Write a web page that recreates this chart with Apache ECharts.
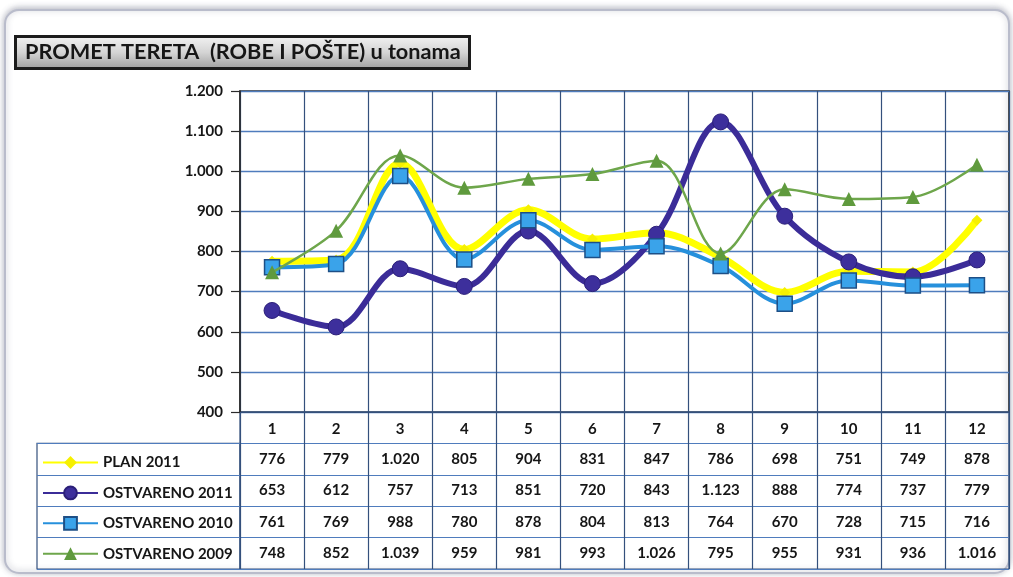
<!DOCTYPE html>
<html>
<head>
<meta charset="utf-8">
<script src="https://cdn.jsdelivr.net/npm/echarts@6/dist/echarts.min.js"></script>
<style>
  html, body { margin: 0; padding: 0; background: #fff; }
  #chart { width: 1013px; height: 577px; }
</style>
</head>
<body>
<div id="chart"></div>
<script>
const months = ['1', '2', '3', '4', '5', '6', '7', '8', '9', '10', '11', '12']
const plan2011 = [776, 779, 1020, 805, 904, 831, 847, 786, 698, 751, 749, 878]
const ostvareno2011 = [653, 612, 757, 713, 851, 720, 843, 1123, 888, 774, 737, 779]
const ostvareno2010 = [761, 769, 988, 780, 878, 804, 813, 764, 670, 728, 715, 716]
const ostvareno2009 = [748, 852, 1039, 959, 981, 993, 1026, 795, 955, 931, 936, 1016]
const seriesNames = ['PLAN 2011', 'OSTVARENO 2011', 'OSTVARENO 2010', 'OSTVARENO 2009']
const yTicks = [400, 1200, 100] // min, max, step

const FONT = 'Lato'
const ink = '#161616'
const hGrid = '#4f7cbd'
const vGrid = '#34507c'

// 1.020 style thousands separator
function fmt(v) {
  if (v < 1000) return String(v)
  return Math.floor(v / 1000) + '.' + String(v % 1000).padStart(3, '0')
}

const tableTop = 412
const tableHeight = 157
const rowH = tableHeight / 5

const allRows = [plan2011, ostvareno2011, ostvareno2010, ostvareno2009]

// one extra x axis per table row, its labels are the row's values
const rowAxes = allRows.map((row, r) => ({
  gridIndex: 1,
  type: 'category',
  position: 'bottom',
  data: row.map(fmt),
  offset: rowH * (r + 1.5) - tableHeight,
  axisLine: { show: false },
  axisTick: { show: false },
  splitLine: { show: false },
  axisLabel: {
    margin: 0,
    verticalAlign: 'middle',
    interval: 0,
    fontFamily: FONT,
    fontSize: 15,
    fontWeight: 'bold',
    color: ink
  }
}))

const chart = echarts.init(document.getElementById('chart'))

const option = {
  backgroundColor: '#fff',
  animation: false,
  graphic: [
    {
      type: 'rect',
      z: -10,
      shape: { x: 5, y: 10, width: 1004, height: 563, r: 14 },
      style: {
        fill: '#fff',
        stroke: '#b9bccb',
        lineWidth: 2,
        shadowBlur: 6,
        shadowColor: 'rgba(90,95,120,0.45)',
        shadowOffsetY: -1
      }
    }
  ],
  title: {
    text: 'PROMET TERETA  (ROBE I POŠTE) u tonama',
    left: 15,
    top: 36,
    padding: [5, 9, 6, 10],
    borderColor: '#1c1c1c',
    borderWidth: 3,
    backgroundColor: new echarts.graphic.LinearGradient(0, 0, 0, 1, [
      { offset: 0, color: '#f4f4f4' },
      { offset: 0.5, color: '#d4d4d4' },
      { offset: 1, color: '#9c9c9c' }
    ]),
    textStyle: { fontFamily: FONT, fontSize: 21.7, fontWeight: 'bold', color: ink }
  },
  legend: {
    data: seriesNames,
    orient: 'vertical',
    left: 37,
    top: 450,
    itemWidth: 55,
    itemHeight: 16,
    itemGap: 15.4,
    textStyle: { fontFamily: FONT, fontSize: 15, fontWeight: 'bold', color: ink },
    selectedMode: false
  },
  grid: [
    { left: 240, right: 4, top: 91, height: 321, show: true, borderColor: '#2a2a2a', borderWidth: 1.5 },
    { left: 240, right: 4, top: tableTop, height: tableHeight, show: true, borderColor: vGrid, borderWidth: 1.2 },
    { left: 37, width: 203, top: tableTop + rowH, height: tableHeight - rowH, show: true, borderColor: vGrid, borderWidth: 1.2 }
  ],
  xAxis: [
    {
      gridIndex: 0,
      type: 'category',
      data: months,
      boundaryGap: true,
      axisLine: { lineStyle: { color: vGrid, width: 1.2 } },
      axisTick: { show: false },
      axisLabel: { margin: 10, fontFamily: FONT, fontSize: 15, fontWeight: 'bold', color: ink },
      splitLine: { show: true, lineStyle: { color: vGrid, width: 1.2 } }
    },
    {
      gridIndex: 1,
      type: 'category',
      data: months,
      boundaryGap: true,
      axisLine: { show: false },
      axisTick: { show: false },
      axisLabel: { show: false },
      splitLine: { show: true, lineStyle: { color: vGrid, width: 1.2 } }
    },
    { gridIndex: 2, type: 'value', min: 0, max: 1, show: false }
  ].concat(rowAxes),
  yAxis: [
    {
      gridIndex: 0,
      type: 'value',
      min: yTicks[0],
      max: yTicks[1],
      interval: yTicks[2],
      axisLine: { show: true, lineStyle: { color: '#2a2a2a', width: 1.5 } },
      axisTick: { show: true, length: 9, lineStyle: { color: '#2a2a2a', width: 1.2 } },
      axisLabel: { margin: 17, fontFamily: FONT, fontSize: 15, fontWeight: 'bold', color: ink, formatter: fmt },
      splitLine: { lineStyle: { color: hGrid, width: 1.3 } }
    },
    {
      gridIndex: 1,
      type: 'category',
      data: [''].concat(seriesNames),
      inverse: true,
      axisLine: { show: false },
      axisTick: { show: false },
      axisLabel: { show: false },
      splitLine: { show: true, lineStyle: { color: hGrid, width: 1.2 } }
    },
    {
      gridIndex: 2,
      type: 'category',
      data: seriesNames,
      inverse: true,
      axisLine: { show: false },
      axisTick: { show: false },
      axisLabel: { show: false },
      splitLine: { show: true, lineStyle: { color: hGrid, width: 1.2 } }
    }
  ],
  series: [
    {
      name: 'PLAN 2011',
      type: 'line',
      data: plan2011,
      smooth: 0.35,
      symbol: 'diamond',
      symbolSize: 11,
      lineStyle: { color: '#ffff00', width: 7 },
      itemStyle: { color: '#f6f000' },
      z: 2
    },
    {
      name: 'OSTVARENO 2011',
      type: 'line',
      data: ostvareno2011,
      smooth: 0.35,
      symbol: 'circle',
      symbolSize: 16,
      lineStyle: { color: '#3b2c98', width: 6 },
      itemStyle: { color: '#3d2f9c', borderColor: '#2b1f78', borderWidth: 1 },
      z: 3
    },
    {
      name: 'OSTVARENO 2010',
      type: 'line',
      data: ostvareno2010,
      smooth: 0.35,
      symbol: 'rect',
      symbolSize: 15,
      lineStyle: { color: '#2690dc', width: 4 },
      itemStyle: { color: '#3aa3ea', borderColor: '#1d4f86', borderWidth: 1.5 },
      z: 4
    },
    {
      name: 'OSTVARENO 2009',
      type: 'line',
      data: ostvareno2009,
      smooth: 0.35,
      symbol: 'triangle',
      symbolSize: 14,
      lineStyle: { color: '#6ea64b', width: 2.5 },
      itemStyle: { color: '#5f9a3d' },
      z: 5
    }
  ]
}

chart.setOption(option)
</script>
</body>
</html>
